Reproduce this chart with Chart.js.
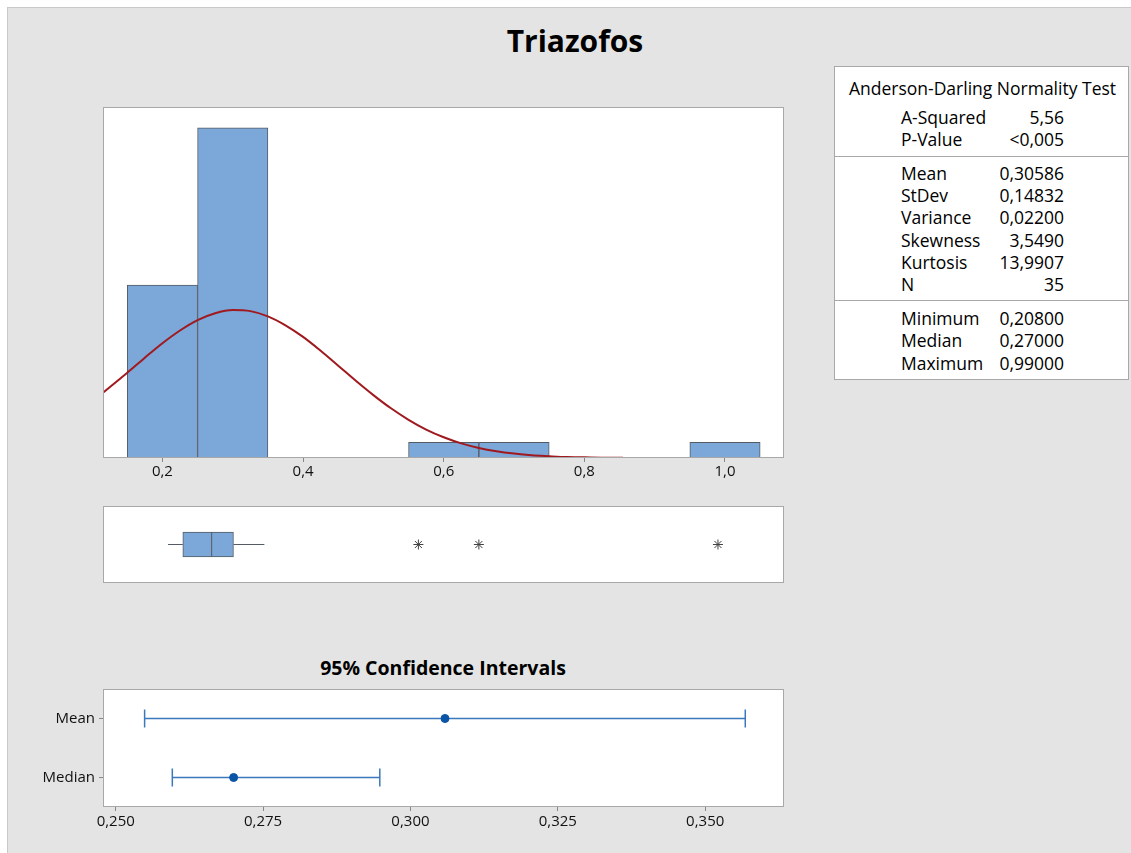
<!DOCTYPE html>
<html>
<head>
<meta charset="utf-8">
<script src="https://cdn.jsdelivr.net/npm/chart.js@4/dist/chart.umd.min.js"></script>
<style>
html,body{margin:0;padding:0;background:#fff;}
body{width:1131px;height:853px;position:relative;overflow:hidden;font-family:"Open Sans",sans-serif;color:#000;}
#bg{position:absolute;left:7px;top:7px;width:1124px;height:846px;background:#e4e4e4;border-top:1px solid #c9c9c9;border-left:1px solid #c9c9c9;box-sizing:border-box;}
.abs{position:absolute;}
#title{left:375px;width:400px;top:25px;height:32px;line-height:32px;text-align:center;font-weight:700;font-size:30px;}
#ciTitle{left:243px;width:400px;top:656px;height:24px;line-height:24px;text-align:center;font-weight:700;font-size:19.5px;}
#stats{left:834px;top:66px;width:295px;height:314px;background:#fff;border:1px solid #a8a8a8;box-sizing:border-box;}
.row{position:absolute;left:0;width:100%;height:22px;line-height:22px;font-size:17.5px;white-space:nowrap;}
.row .lab{position:absolute;left:66px;}
.row .val{position:absolute;right:64px;text-align:right;}
.row.head{text-align:center;left:1px;}
.sep{position:absolute;left:0;width:100%;height:1px;background:#a8a8a8;}
canvas{position:absolute;}
</style>
</head>
<body>
<div id="bg"></div>
<div id="title" class="abs">Triazofos</div>
<div id="ciTitle" class="abs">95% Confidence Intervals</div>
<div id="stats" class="abs"></div>
<canvas id="hist" width="683" height="382" style="left:102px;top:106px;"></canvas>
<canvas id="box" width="683" height="79" style="left:102px;top:505px;"></canvas>
<canvas id="ci" width="765" height="145" style="left:20px;top:688px;"></canvas>
<script>
// ---------------- data ----------------
const binCenters = [0.2, 0.3, 0.4, 0.5, 0.6, 0.7, 0.8, 0.9, 1.0];
const binCounts  = [11, 21, 0, 0, 1, 1, 0, 0, 1];
const fitX = [0.115,0.15,0.175,0.2,0.225,0.25,0.275,0.3,0.325,0.35,0.375,0.4,0.425,0.45,0.475,0.5,0.525,0.55,0.575,0.6,0.625,0.65,0.675,0.7,0.725,0.75,0.775,0.8,0.825,0.855];
const fitY = [4.13,5.42,6.38,7.30,8.11,8.77,9.21,9.41,9.34,9.01,8.44,7.70,6.82,5.87,4.91,4.00,3.16,2.43,1.81,1.32,0.93,0.64,0.43,0.28,0.17,0.11,0.06,0.04,0.02,0.01];
const histTicks = [0.2, 0.4, 0.6, 0.8, 1.0];

const boxLabel = ['Triazofos'];
const boxWhiskers = [0.208, 0.345];
const boxQuartiles = [0.229, 0.270, 0.301]; // Q1, median, Q3
const boxOutliers = [0.564, 0.650, 0.990];

const ciLabels = ['Mean', 'Median'];
const ciEstimate = [0.30586, 0.27000];
const ciLow = [0.2549, 0.2596];
const ciHigh = [0.3568, 0.2948];
const ciTicks = [0.250, 0.275, 0.300, 0.325, 0.350];

const statsHead = 'Anderson-Darling Normality Test';
const statsGroups = [
  [['A-Squared','5,56'],['P-Value','<0,005']],
  [['Mean','0,30586'],['StDev','0,14832'],['Variance','0,02200'],['Skewness','3,5490'],['Kurtosis','13,9907'],['N','35']],
  [['Minimum','0,20800'],['Median','0,27000'],['Maximum','0,99000']]
];

// ---------------- stats box ----------------
(function(){
  const box = document.getElementById('stats');
  const centers = [[50.9,72.9],[106.7,129.2,150.7,173.5,195.5,218.2],[252.3,274,296.7]];
  const head = document.createElement('div');
  head.className = 'row head';
  head.style.top = (21.9 - 12) + 'px';
  head.textContent = statsHead;
  box.appendChild(head);
  statsGroups.forEach((g, gi) => {
    g.forEach((r, ri) => {
      const d = document.createElement('div');
      d.className = 'row';
      d.style.top = (centers[gi][ri] - 12) + 'px';
      const a = document.createElement('span'); a.className='lab'; a.textContent = r[0];
      const b = document.createElement('span'); b.className='val'; b.textContent = r[1];
      d.appendChild(a); d.appendChild(b);
      box.appendChild(d);
    });
  });
  [88.7, 233].forEach(y => {
    const s = document.createElement('div'); s.className='sep'; s.style.top = y + 'px'; box.appendChild(s);
  });
})();

// ---------------- charts ----------------
Chart.defaults.font.family = '"Open Sans", sans-serif';
Chart.defaults.color = '#111';
Chart.defaults.animation = false;

const framePlugin = {
  id: 'frame',
  beforeDraw(chart) {
    const {ctx, chartArea: a} = chart;
    ctx.save();
    ctx.fillStyle = '#ffffff';
    ctx.fillRect(a.left, a.top, a.right - a.left, a.bottom - a.top);
    ctx.restore();
  },
  afterDraw(chart) {
    const {ctx, chartArea: a} = chart;
    ctx.save();
    ctx.strokeStyle = '#a8a8a8';
    ctx.lineWidth = 1;
    ctx.strokeRect(a.left + 0.5, a.top + 0.5, a.right - a.left - 1, a.bottom - a.top - 1);
    ctx.restore();
  }
};

const fmt = (v, d) => Number(v).toFixed(d).replace('.', ',');
const noPlug = {legend: {display: false}, tooltip: {enabled: false}};
const noPad = s => { s.paddingTop = 0; s.paddingBottom = 0; s.paddingLeft = 0; s.paddingRight = 0; };

// Histogram
new Chart(document.getElementById('hist'), {
  type: 'bar',
  data: {
    datasets: [
      {
        type: 'line',
        order: 0,
        data: fitX.map((x, i) => ({x, y: fitY[i]})),
        borderColor: '#a0191f',
        borderWidth: 2,
        pointRadius: 0,
        cubicInterpolationMode: 'monotone',
        fill: false
      },
      {
        type: 'bar',
        order: 1,
        data: binCenters.map((x, i) => ({x, y: binCounts[i] ? binCounts[i] : null})),
        backgroundColor: '#7ba7d9',
        borderColor: '#555b63',
        borderWidth: 1,
        borderSkipped: 'start',
        barPercentage: 1,
        categoryPercentage: 1
      }
    ]
  },
  options: {
    responsive: false,
    devicePixelRatio: 1,
    layout: {autoPadding: false, padding: {left: 1, right: 1, top: 1, bottom: 0}},
    plugins: noPlug,
    scales: {
      x: {
        type: 'linear', min: 0.1155, max: 1.0839, offset: false,
        afterBuildTicks: s => { s.ticks = histTicks.map(v => ({value: v})); },
        afterFit: s => { s.height = 30; noPad(s); },
        ticks: {callback: v => fmt(v, 1), font: {size: 15}, color: '#111', padding: 1, maxRotation: 0, autoSkip: false},
        grid: {offset: false, drawOnChartArea: false, drawTicks: true, tickLength: 4, color: '#888'},
        border: {display: false}
      },
      y: {display: false, min: 0, max: 22.32}
    }
  },
  plugins: [framePlugin]
});

// Boxplot
new Chart(document.getElementById('box'), {
  type: 'bar',
  data: {
    labels: boxLabel,
    datasets: [
      {
        type: 'scatter', order: 0,
        data: boxOutliers.map(x => ({x, y: boxLabel[0]})),
        pointStyle: 'star', pointRadius: 5, borderColor: '#444', borderWidth: 1
      },
      {
        type: 'scatter', order: 1,
        data: [{x: boxQuartiles[1], y: boxLabel[0]}],
        pointStyle: 'line', rotation: 90, pointRadius: 12.5, borderColor: '#555b63', borderWidth: 1
      },
      {
        type: 'line', order: 2,
        data: [{x: boxWhiskers[0], y: boxLabel[0]}, {x: boxQuartiles[0], y: boxLabel[0]}],
        borderColor: '#555b63', borderWidth: 1, pointRadius: 0
      },
      {
        type: 'line', order: 3,
        data: [{x: boxQuartiles[2], y: boxLabel[0]}, {x: boxWhiskers[1], y: boxLabel[0]}],
        borderColor: '#555b63', borderWidth: 1, pointRadius: 0
      },
      {
        type: 'bar', order: 4,
        data: [[boxQuartiles[0], boxQuartiles[2]]],
        backgroundColor: '#7ba7d9', borderColor: '#555b63', borderWidth: 1,
        borderSkipped: false, barThickness: 25
      }
    ]
  },
  options: {
    indexAxis: 'y',
    responsive: false,
    devicePixelRatio: 1,
    layout: {autoPadding: false, padding: {left: 1, right: 1, top: 1, bottom: 1}},
    plugins: noPlug,
    scales: {
      x: {type: 'linear', min: 0.1155, max: 1.0839, display: false, offset: false},
      y: {type: 'category', display: false, offset: true}
    }
  },
  plugins: [framePlugin]
});

// Confidence intervals
const ciColor = '#3b78bd';
const ciDatasets = [];
ciLabels.forEach((lab, i) => {
  ciDatasets.push({
    showLine: true,
    data: [{x: ciLow[i], y: lab}, {x: ciHigh[i], y: lab}],
    borderColor: ciColor, borderWidth: 1.5,
    pointStyle: 'line', rotation: 90, pointRadius: 9,
    pointBorderColor: ciColor, pointBorderWidth: 1.5, order: 2
  });
});
ciDatasets.unshift({
  data: ciLabels.map((lab, i) => ({x: ciEstimate[i], y: lab})),
  pointStyle: 'circle', pointRadius: 4,
  backgroundColor: '#0b55a6', borderColor: '#0b55a6', order: 0
});

new Chart(document.getElementById('ci'), {
  type: 'scatter',
  data: {labels: ciLabels, datasets: ciDatasets},
  options: {
    responsive: false,
    devicePixelRatio: 1,
    layout: {autoPadding: false, padding: {left: 0, right: 1, top: 1, bottom: 0}},
    plugins: noPlug,
    scales: {
      x: {
        type: 'linear', min: 0.24784, max: 0.36337, offset: false,
        afterBuildTicks: s => { s.ticks = ciTicks.map(v => ({value: v})); },
        afterFit: s => { s.height = 26; noPad(s); },
        ticks: {callback: v => fmt(v, 3), font: {size: 15}, color: '#111', padding: 2, maxRotation: 0, autoSkip: false},
        grid: {drawOnChartArea: false, drawTicks: true, tickLength: 4, color: '#888'},
        border: {display: false}
      },
      y: {
        type: 'category', labels: ciLabels, offset: true,
        afterFit: s => { s.width = 83; noPad(s); },
        ticks: {font: {size: 15}, color: '#111', padding: 4},
        grid: {drawOnChartArea: false, drawTicks: true, tickLength: 4, color: '#888', offset: false},
        border: {display: false}
      }
    }
  },
  plugins: [framePlugin]
});
</script>
</body>
</html>
